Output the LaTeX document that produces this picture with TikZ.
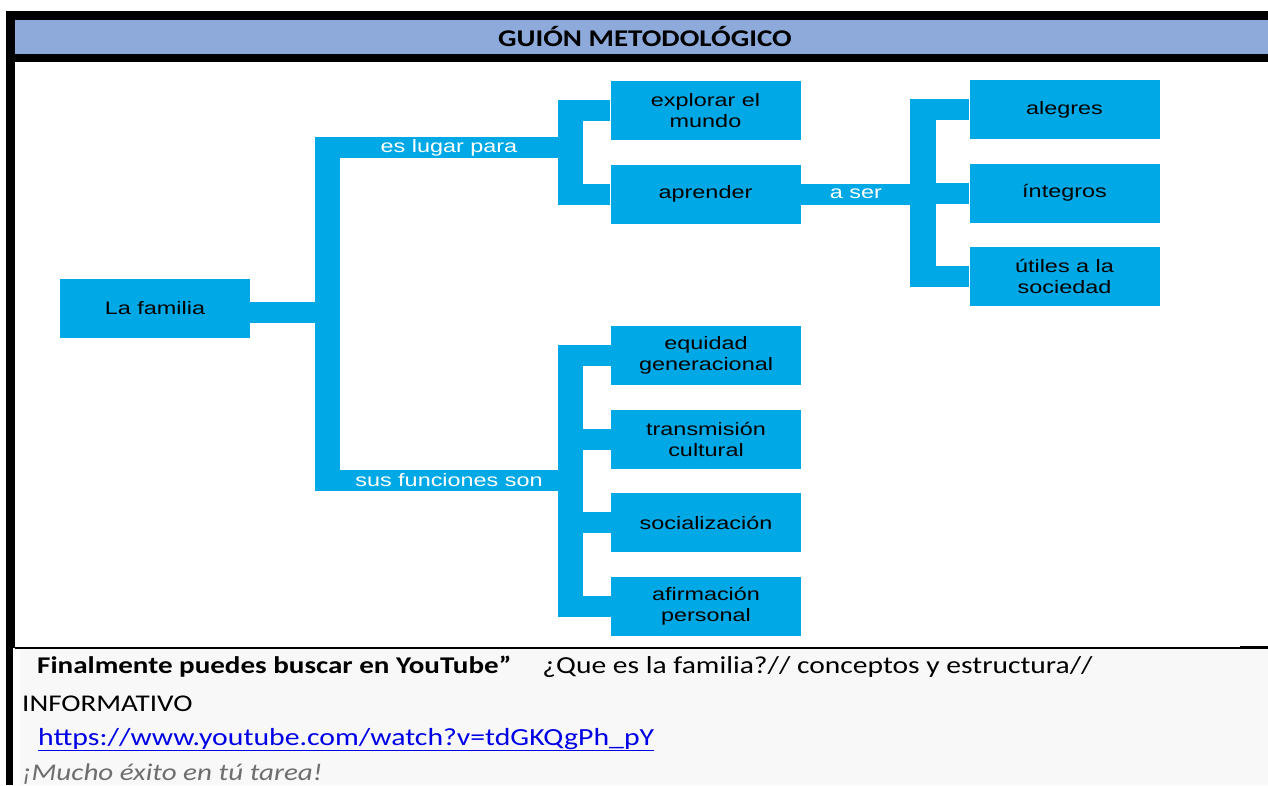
\documentclass[tikz,border=0pt]{standalone}
\usepackage{fontspec}
\setmainfont{Carlito}[FakeStretch=1.21]
\newfontfamily\mapfont[FakeStretch=1.3]{Liberation Sans}
\usetikzlibrary{positioning}

\definecolor{famblue}{RGB}{0,169,230}
\definecolor{headblue}{RGB}{142,170,219}
\definecolor{linkblue}{RGB}{0,0,230}
\definecolor{notegray}{RGB}{110,110,110}
\definecolor{panelgray}{RGB}{248,248,248}

\tikzset{node distance=83.5pt,
  box/.style={fill=famblue, minimum width=190pt, minimum height=59pt, inner sep=0pt,
    align=center, text=black, font=\mapfont\fontsize{18}{21}\selectfont},
  bar/.style={draw=famblue, line width=21pt},
  trunk/.style={draw=famblue, line width=25pt},
  barlabel/.style={text=white, inner sep=0pt, font=\mapfont\fontsize{18}{21}\selectfont}}

\begin{document}
\begin{tikzpicture}[x=1pt,y=-1pt]
  \useasboundingbox (0,0) rectangle (1268,785);
  \clip (0,0) rectangle (1268,785);

  % marco de la tabla
  \fill[panelgray] (20,649) rectangle (1268,785);
  \fill[black] (6,11) rectangle (1268,62);
  \fill[headblue] (15,20) rectangle (1268,54);
  \fill[black] (6,62) rectangle (15,648);
  \fill[black] (6,648) rectangle (13,785);
  \draw[line width=1.2pt] (15,648) -- (1268,648);
  \fill[black] (1240,646) rectangle (1268,649);
  \node (head) at (645,37) {\fontsize{24}{28}\selectfont\bfseries GUIÓN METODOLÓGICO};

  % mapa
  \node[box] (fam) at (155,308) {La familia};
  \node[box] (expl) at (705.5,110.5) {explorar el\\mundo};
  \node[box] (apr) [below of=expl] {aprender};
  \node[box] (aleg) at (1064.5,109.5) {alegres};
  \node[box] (integ) [below of=aleg] {íntegros};
  \node[box] (util) [below of=integ] {útiles a la\\sociedad};
  \node[box] (equi) at (706,355.5) {equidad\\generacional};
  \node[box] (trans) [below of=equi] {transmisión\\cultural};
  \node[box] (soc) [below of=trans] {socialización};
  \node[box] (afir) [below of=soc] {afirmación\\personal};

  \coordinate (t1) at (327.5,137);
  \coordinate (t2) at (327.5,491);
  \coordinate (lugar) at (327.5,147.5);
  \coordinate (func) at (327.5,480.5);
  \coordinate (s1) at (570.5,100);
  \coordinate (s2) at (570.5,205);
  \coordinate (s3) at (570.5,345);
  \coordinate (s4) at (570.5,616.5);
  \coordinate (r1) at (923,99);
  \coordinate (r2) at (923,287);

  \draw[trunk] (t1) -- (t2);
  \draw[trunk] (s1) -- (s2);
  \draw[trunk] (s3) -- (s4);
  \draw[trunk, line width=26pt] (r1) -- (r2);

  \draw[bar] ([yshift=-4pt]fam.east) -- ([yshift=-4pt]fam.east -| t1);
  \draw[bar] (lugar) -- (lugar -| s1) node[barlabel, midway] {es lugar para};
  \draw[bar] (func) -- (func -| s1) node[barlabel, midway] {sus funciones son};
  \draw[bar] (s1 |- expl) -- (expl.west);
  \draw[bar] (s1 |- apr) -- (apr.west);
  \draw[bar] (apr.east) -- (r1 |- apr) node[barlabel, midway, xshift=-6pt] {a ser};
  \draw[bar] (r1 |- aleg) -- (aleg.west);
  \draw[bar] (r1 |- integ) -- (integ.west);
  \draw[bar] (r1 |- util) -- (util.west);
  \draw[bar] (s3 |- equi) -- (equi.west);
  \draw[bar] (s3 |- trans) -- (trans.west);
  \draw[bar] (s3 |- soc) -- (soc.west);
  \draw[bar] (s3 |- afir) -- (afir.west);

  % texto final
  \node[anchor=base west, inner sep=0pt] (busca) at (37,673) {\fontsize{24}{28}\selectfont
    \textbf{Finalmente puedes buscar en YouTube”}\hspace{1.3em}{\fontsize{24.4}{28}\selectfont ¿Que es la familia?// conceptos y estructura//}};
  \node[anchor=base west, inner sep=0pt] (info) at (22,711) {\fontsize{24}{28}\selectfont INFORMATIVO};
  \node[anchor=base west, inner sep=0pt, text=linkblue] (link) at (38,745)
    {\fontsize{24.6}{28}\selectfont\underline{https://www.youtube.com/watch?v=tdGKQgPh\_pY}};
  \node[anchor=base west, inner sep=0pt, text=notegray] (exito) at (22,780)
    {\fontsize{24}{28}\selectfont\itshape ¡Mucho éxito en tú tarea!};
\end{tikzpicture}
\end{document}
